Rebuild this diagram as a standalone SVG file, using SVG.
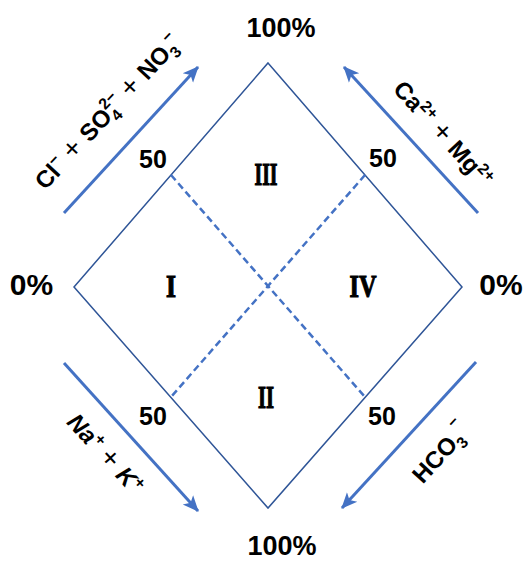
<svg xmlns="http://www.w3.org/2000/svg" width="523" height="561" viewBox="0 0 523 561">
<style>
  .edge{fill:none;stroke:#2F5597;stroke-width:1.5}
  .dash{fill:none;stroke:#4472C4;stroke-width:2.5;stroke-dasharray:7 4}
  .arrow{fill:none;stroke:#4472C4;stroke-width:3}
  .num{font-family:"Liberation Sans",Arial,sans-serif;font-weight:bold;fill:#000;text-anchor:middle}
  .rom{font-family:"Liberation Serif","Times New Roman",serif;font-weight:bold;fill:#000;stroke:#000;stroke-width:1.2;text-anchor:middle;font-size:32px}
  .lbl{font-family:"Liberation Sans",Arial,sans-serif;font-weight:bold;fill:#000;font-size:24px;text-anchor:middle}
  .thin{font-weight:normal;font-size:28px;font-style:normal}
  .sm{font-size:16px}
</style>
<defs>
  <marker id="ah" markerUnits="userSpaceOnUse" markerWidth="16" markerHeight="16" viewBox="0 0 16 16" refX="15" refY="8" orient="auto">
    <path d="M0,1 L16,8 L0,15 L4,8 z" fill="#4472C4"/>
  </marker>
</defs>

<g id="diamond">
  <polygon class="edge" points="268,63 462,287 268,508 74,287"/>
</g>
<g id="dividers">
  <line class="dash" x1="171" y1="175" x2="365" y2="397"/>
  <line class="dash" x1="365" y1="175" x2="171" y2="397"/>
</g>

<g id="connectors">
  <line class="arrow" x1="64" y1="213" x2="198" y2="67" marker-end="url(#ah)"/>
  <line class="arrow" x1="478" y1="213" x2="344" y2="67" marker-end="url(#ah)"/>
  <line class="arrow" x1="64" y1="363" x2="198" y2="511" marker-end="url(#ah)"/>
  <line class="arrow" x1="476" y1="362" x2="342" y2="508" marker-end="url(#ah)"/>
</g>

<g id="region-III"><text class="rom" x="266" y="185" textLength="23" lengthAdjust="spacingAndGlyphs">III</text></g>
<g id="region-I"><text class="rom" x="171" y="297" textLength="10" lengthAdjust="spacingAndGlyphs">I</text></g>
<g id="region-IV"><text class="rom" x="363" y="297" textLength="27" lengthAdjust="spacingAndGlyphs">IV</text></g>
<g id="region-II"><text class="rom" x="266" y="408" textLength="16" lengthAdjust="spacingAndGlyphs">II</text></g>

<g id="scale-labels">
  <text class="num" x="281" y="37" font-size="27">100%</text>
  <text class="num" x="282" y="555" font-size="27">100%</text>
  <text class="num" x="31.5" y="295" font-size="30">0%</text>
  <text class="num" x="501" y="295" font-size="30">0%</text>
  <text class="num" x="153" y="168" font-size="25">50</text>
  <text class="num" x="383" y="167" font-size="25">50</text>
  <text class="num" x="153" y="425" font-size="25">50</text>
  <text class="num" x="382" y="425" font-size="25">50</text>
</g>

<g id="label-anions">
  <text class="lbl" transform="translate(108,112) rotate(-47)" x="0" y="8">Cl<tspan class="sm" dy="-10">−</tspan><tspan class="thin" dy="10"> + </tspan>SO<tspan class="sm" dy="6">4</tspan><tspan class="sm" dx="-9" dy="-17">2−</tspan><tspan class="thin" dy="11"> + </tspan>NO<tspan class="sm" dy="6">3</tspan><tspan class="sm" dx="-3" dy="-17">−</tspan></text>
</g>
<g id="label-cations">
  <text class="lbl" transform="translate(443,134) rotate(47.5)" x="0" y="8">Ca<tspan class="sm" dy="-9">2+</tspan><tspan class="thin" dy="9"> + </tspan>Mg<tspan class="sm" dy="-9">2+</tspan></text>
</g>
<g id="label-alkali">
  <text class="lbl" transform="translate(105,454) rotate(47.5)" x="0" y="8" font-style="italic">Na<tspan class="sm" dy="-9">+</tspan><tspan class="thin" dy="9"> + </tspan>K<tspan class="sm" dy="-9">+</tspan></text>
</g>
<g id="label-bicarbonate">
  <text class="lbl" transform="translate(441,453) rotate(-47.5)" x="0" y="8">HCO<tspan class="sm" dy="6">3</tspan><tspan class="sm" dx="0" dy="-21">−</tspan></text>
</g>
</svg>
